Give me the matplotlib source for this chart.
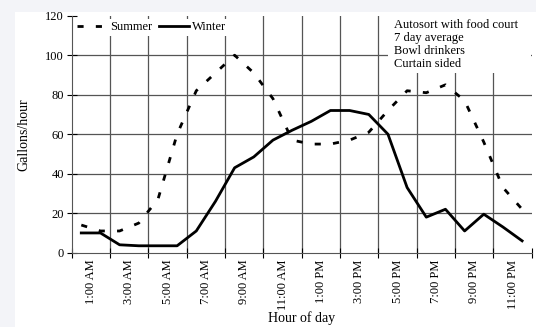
import numpy as np
import matplotlib
matplotlib.use("Agg")
import matplotlib.pyplot as plt
from matplotlib.patches import Rectangle

# hourly values, 1:00 AM .. 12:00 AM
hours = ["1:00 AM", "2:00 AM", "3:00 AM", "4:00 AM", "5:00 AM", "6:00 AM",
         "7:00 AM", "8:00 AM", "9:00 AM", "10:00 AM", "11:00 AM", "12:00 PM",
         "1:00 PM", "2:00 PM", "3:00 PM", "4:00 PM", "5:00 PM", "6:00 PM",
         "7:00 PM", "8:00 PM", "9:00 PM", "10:00 PM", "11:00 PM", "12:00 AM"]
summer = [14, 11, 11, 15, 27, 60, 82, 91, 100, 91, 78, 57,
          55, 55, 57, 61, 72, 82, 81, 85, 77, 56, 33, 22]
winter = [10, 10, 4, 3.5, 3.5, 3.5, 11, 26, 43, 48.5, 57, 62,
          66.5, 72, 72, 70, 60, 33, 18, 22, 11, 19.5, 13, 6]
y_ticks = [0, 20, 40, 60, 80, 100, 120]
note = ["Autosort with food court", "7 day average", "Bowl drinkers", "Curtain sided"]

plt.rcParams["font.family"] = ["Liberation Serif", "DejaVu Serif"]

fig = plt.figure(figsize=(5.36, 3.27), dpi=100, facecolor="#f3f4f8")
fig.patches.append(Rectangle((15 / 536, 0), 1, (327 - 12) / 327,
                             transform=fig.transFigure, facecolor="white",
                             edgecolor="none", zorder=-10))
ax = fig.add_axes([71.7 / 536, 1 - 252.7 / 327, 460 / 536, 237 / 327])
ax.set_facecolor("none")

x = np.arange(len(hours))
ax.plot(x, summer, color="black", lw=2.0, ls=(0, (2.2, 4.4)), label="Summer", zorder=3)
ax.plot(x, winter, color="black", lw=2.0, label="Winter", zorder=3)

ax.set_xlim(-0.5, len(hours) - 0.5)
ax.set_ylim(0, 120)

# grid
for v in y_ticks[1:-1]:
    ax.axhline(v, color="#555555", lw=0.9, zorder=1)
bounds = np.arange(1.5, len(hours) - 1, 2)
for b in bounds:
    ax.axvline(b, color="#555555", lw=0.9, zorder=1)

ax.set_yticks(y_ticks)
ax.tick_params(axis="y", direction="inout", length=7, width=0.8, labelsize=9, pad=2)
ax.set_xticks(np.arange(-0.5, len(hours), 2))
ax.set_xticklabels([])
ax.set_xticks(np.arange(0.5, len(hours), 2), minor=True)
ax.set_xticklabels(hours[::2], minor=True, rotation=90, fontsize=9)
ax.tick_params(axis="x", which="major", direction="inout", length=7, width=0.8)
ax.tick_params(axis="x", which="minor", length=0, pad=5)

for s in ["top", "right"]:
    ax.spines[s].set_visible(False)
ax.spines["left"].set_color("#555555")
ax.spines["bottom"].set_color("#555555")

ax.set_ylabel("Gallons/hour", fontsize=10, labelpad=11)
ax.set_xlabel("Hour of day", fontsize=10, labelpad=1)

leg = ax.legend(loc="upper left", ncol=2, frameon=True, fontsize=9,
                handlelength=2.4, columnspacing=0.6, handletextpad=0.2,
                borderaxespad=0.25, borderpad=0.2, fancybox=False)
leg.get_frame().set_facecolor("white")
leg.get_frame().set_edgecolor("none")
leg.get_frame().set_alpha(1)
leg.set_zorder(4)

ax.add_patch(Rectangle((0.688, 0.76), 0.31, 0.24, transform=ax.transAxes,
                       facecolor="white", edgecolor="none", zorder=2))
ax.text(0.70, 0.985, "\n".join(note), transform=ax.transAxes, fontsize=9,
        va="top", ha="left", linespacing=1.12, zorder=5)

fig.savefig("out.png", dpi=100, facecolor=fig.get_facecolor())
